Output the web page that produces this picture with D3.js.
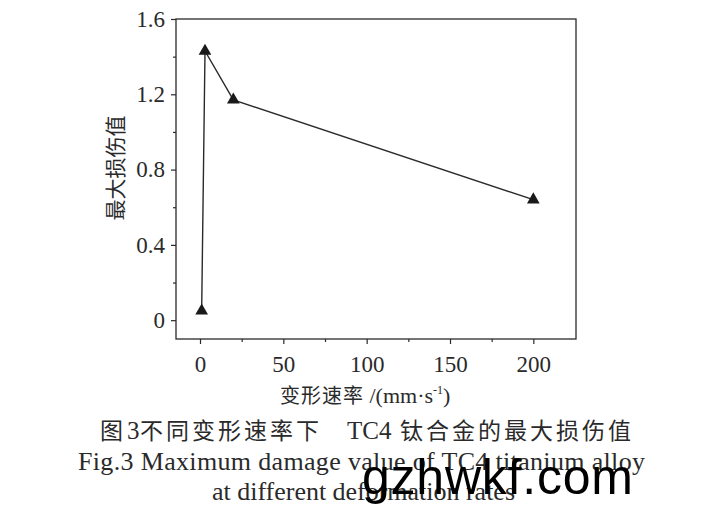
<!DOCTYPE html>
<html><head><meta charset="utf-8">
<script src="https://cdn.jsdelivr.net/npm/d3@7"></script>
<style>body{margin:0;background:#fff}</style>
</head><body>
<svg id="c" width="717" height="525"></svg>
<script>
const rates = [1, 3, 20, 200];
const damage = [0.05, 1.43, 1.17, 0.64];
const xTicks = [0, 50, 100, 150, 200];
const yTicks = [0, 0.4, 0.8, 1.2, 1.6];
const xMinor = [25, 75, 125, 175];
const yMinor = [0.2, 0.6, 1.0, 1.4];
const yTitle = "最大损伤值";
const caption1 = [["图", "cjk", 100], ["3", "serif", 127], ["不同变形速率下", "cjk", 140], ["TC4", "serif", 347], ["钛合金的最大损伤值", "cjk", 400]];
const caption2 = "Fig.3  Maximum damage value of TC4 titanium alloy";
const caption3 = "at different deformation rates";

const svg = d3.select("#c");
const L = 176, R = 576, T = 19, B = 339;
const x = d3.scaleLinear().domain([-14.4, 225.6]).range([L, R]);
const y = d3.scaleLinear().domain([-0.1, 1.6]).range([B, T]);
const ink = "#2a2a2a";
const serif = "'Liberation Serif','DejaVu Serif',serif";
const cjk = "'Noto Sans CJK SC',sans-serif";

// frame
svg.append("rect").attr("x", L).attr("y", T).attr("width", R - L).attr("height", B - T)
  .attr("fill", "none").attr("stroke", ink).attr("stroke-width", 1.3);

const xa = svg.append("g").attr("transform", `translate(0,${B})`)
  .call(d3.axisBottom(x).tickValues(xTicks).tickSize(5).tickPadding(12).tickFormat(d3.format("d")));
const xm = svg.append("g").attr("transform", `translate(0,${B})`)
  .call(d3.axisBottom(x).tickValues(xMinor).tickSize(3).tickFormat(""));
const ya = svg.append("g").attr("transform", `translate(${L},0)`)
  .call(d3.axisLeft(y).tickValues(yTicks).tickSize(5).tickPadding(6).tickFormat(d => d === 0 ? "0" : d3.format(".1f")(d)));
const ym = svg.append("g").attr("transform", `translate(${L},0)`)
  .call(d3.axisLeft(y).tickValues(yMinor).tickSize(3).tickFormat(""));
[xa, xm, ya, ym].forEach(g => {
  g.select(".domain").remove();
  g.selectAll("line").attr("stroke", ink).attr("stroke-width", 1.2);
  g.selectAll("text").attr("fill", ink).style("font-family", serif).style("font-size", "23px");
});

// line
svg.append("path").datum(rates.map((r, i) => [r, damage[i]]))
  .attr("fill", "none").attr("stroke", ink).attr("stroke-width", 1.4)
  .attr("d", d3.line().x(d => x(d[0])).y(d => y(d[1])));
svg.selectAll(".pt").data(rates.map((r, i) => [r, damage[i]])).enter().append("path")
  .attr("transform", d => `translate(${x(d[0])},${y(d[1])})`)
  .attr("d", d3.symbol(d3.symbolTriangle, 70))
  .attr("fill", "#1a1a1a");

// axis titles
const xt = svg.append("text").attr("x", 280).attr("y", 403)
  .attr("fill", ink).style("font-size", "20px");
xt.append("tspan").style("font-family", cjk).attr("letter-spacing", 1).text("变形速率 ");
xt.append("tspan").style("font-family", serif).style("font-size", "22px").text("/(mm·s");
xt.append("tspan").style("font-family", serif).style("font-size", "12px").attr("dy", -9).text("-1");
xt.append("tspan").style("font-family", serif).style("font-size", "22px").attr("dy", 9).text(")");

svg.append("text").attr("transform", "translate(123,168) rotate(-90)").attr("text-anchor", "middle")
  .attr("fill", ink).style("font-family", cjk).style("font-size", "21px").text(yTitle);

// caption
const c1 = svg.append("text").attr("y", 439).attr("fill", ink);
caption1.forEach(([t, f, px]) => {
  c1.append("tspan").attr("x", px)
    .style("font-family", f === "cjk" ? cjk : serif)
    .style("font-size", f === "cjk" ? "23px" : "25px")
    .attr("letter-spacing", f === "cjk" ? 3 : 0).text(t);
});
svg.append("text").attr("x", 78).attr("y", 470).attr("fill", ink)
  .style("font-family", serif).style("font-size", "26px").attr("textLength", 567).text(caption2);
svg.append("text").attr("x", 212).attr("y", 500).attr("fill", ink)
  .style("font-family", serif).style("font-size", "26px").attr("textLength", 303).text(caption3);

// watermark
svg.append("text").attr("x", 362).attr("y", 494).attr("fill", "#000")
  .style("font-family", "'Liberation Sans',Arial,sans-serif").style("font-size", "50px")
  .attr("textLength", 271).text("gzhwkf.com");
</script>
</body></html>
